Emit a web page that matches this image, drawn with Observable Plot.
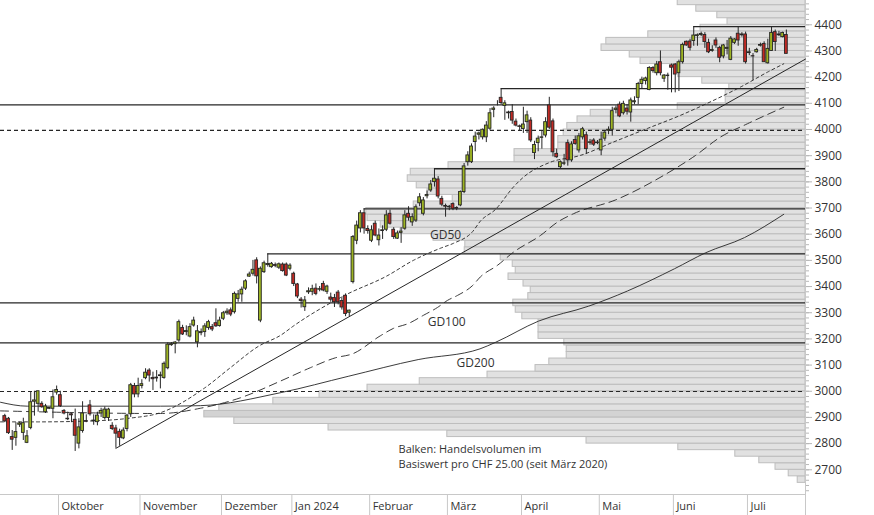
<!DOCTYPE html>
<html><head><meta charset="utf-8">
<script src="https://cdn.jsdelivr.net/npm/d3@7"></script>
<script src="https://cdn.jsdelivr.net/npm/@observablehq/plot@0.6"></script>
<style>
html,body{margin:0;padding:0;background:#fff;}
#chart{position:relative;width:874px;height:515px;overflow:hidden;}
#chart svg{position:absolute;left:0;top:0;}
</style></head><body><div id="chart"></div>
<script>
// ---- data ----
const monthNames = ["Oktober","November","Dezember","Jan 2024","Februar","März","April","Mai","Juni","Juli"];
const monthFirst = [15, 37, 59, 78, 99, 120, 140, 161, 181, 201];

const open = [2905,2895,2825,2822,2872,2841,2803,2860,2960,2952,
2952,2920,2933,2933,2995,2985,2925,2895,2912,2891,
2800,2848,2886,2946,2885,2882,2915,2898,2898,2868,
2858,2845,2820,2856,2912,3020,2988,3020,3050,3079,
3051,3049,3058,3051,3088,3176,3180,3194,3242,3226,
3209,3251,3187,3222,3226,3242,3245,3260,3249,3277,
3298,3309,3302,3353,3370,3392,3438,3449,3500,3270,
3455,3482,3474,3482,3472,3484,3484,3468,3449,3408,
3350,3321,3378,3380,3392,3388,3410,3380,3358,3356,
3377,3345,3365,3300,3417,3575,3622,3680,3620,3575,
3640,3577,3612,3617,3678,3617,3583,3605,3621,3678,
3645,3652,3718,3678,3745,3767,3799,3809,3735,3708,
3705,3715,3700,3710,3761,3875,3875,3952,3980,3970,
3970,4003,4075,4098,4121,4090,4065,4067,4030,4012,
4002,4028,4034,3910,3948,3968,3977,4092,4031,3907,
3856,3869,3948,3882,3960,3920,3970,3978,3949,3958,
3948,3920,3965,3995,3999,4075,4095,4062,4080,4065,
4104,4121,4174,4185,4151,4235,4215,4257,4194,4206,
4245,4248,4215,4257,4335,4336,4338,4357,4361,4361,
4331,4300,4340,4312,4279,4308,4266,4331,4366,4360,
4363,4292,4280,4295,4320,4327,4253,4300,4372,4360,
4353,4361];
const high = [2912,2900,2850,2880,2882,2897,2850,2996,3000,3000,
2960,2950,2937,3005,3020,3000,2930,2920,2915,2932,
2895,2960,2910,2965,2910,2920,2935,2940,2935,2880,
2870,2855,2860,2912,3030,3030,3050,3044,3086,3086,
3073,3079,3073,3112,3185,3186,3190,3272,3252,3250,
3258,3283,3251,3238,3258,3271,3255,3315,3283,3305,
3315,3318,3379,3385,3398,3426,3455,3500,3510,3475,
3497,3525,3492,3490,3490,3490,3490,3487,3455,3412,
3358,3362,3395,3405,3410,3400,3420,3405,3375,3370,
3385,3360,3372,3310,3595,3650,3690,3697,3632,3632,
3650,3620,3632,3690,3692,3625,3612,3625,3690,3705,
3678,3712,3755,3740,3765,3805,3850,3820,3745,3715,
3710,3720,3705,3765,3870,3915,3945,3990,3990,4002,
4030,4080,4087,4110,4156,4110,4070,4095,4040,4017,
4085,4070,4045,3955,3975,3995,4045,4123,4040,3925,
3880,3905,3960,3953,3975,3985,4008,3990,3962,3965,
3958,3990,3995,4010,4085,4090,4105,4108,4095,4120,
4125,4180,4200,4200,4240,4240,4260,4300,4210,4215,
4250,4252,4265,4330,4338,4345,4393,4365,4372,4370,
4345,4320,4350,4318,4325,4340,4355,4347,4393,4370,
4372,4310,4290,4310,4330,4335,4345,4393,4380,4375,
4372,4380];
const low = [2880,2835,2774,2790,2862,2812,2800,2853,2905,2920,
2935,2915,2930,2895,2985,2938,2910,2888,2880,2770,
2780,2840,2880,2905,2870,2868,2900,2890,2885,2850,
2782,2790,2815,2845,2900,2975,2975,3009,3044,3035,
3003,3035,3009,3046,3082,3172,3143,3187,3213,3212,
3204,3245,3166,3212,3206,3233,3228,3244,3245,3270,
3290,3285,3295,3340,3340,3385,3435,3440,3410,3262,
3450,3474,3470,3472,3465,3455,3438,3460,3400,3354,
3318,3305,3370,3365,3365,3380,3380,3370,3340,3320,
3330,3310,3285,3285,3410,3560,3605,3600,3600,3568,
3590,3555,3580,3610,3635,3580,3580,3565,3615,3650,
3630,3645,3705,3670,3735,3760,3780,3735,3705,3665,
3690,3690,3690,3705,3755,3860,3870,3915,3960,3960,
3950,3995,4045,4090,4095,4035,4040,4020,4010,3995,
3985,3985,3950,3885,3915,3925,3968,4000,3895,3890,
3850,3862,3860,3875,3940,3910,3960,3905,3940,3935,
3942,3900,3955,3980,3975,4060,4045,4055,4055,4028,
4095,4095,4155,4170,4148,4215,4205,4205,4180,4150,
4140,4140,4145,4250,4318,4300,4318,4318,4355,4310,
4290,4295,4310,4255,4270,4285,4263,4325,4318,4353,
4250,4282,4187,4292,4315,4257,4250,4298,4298,4355,
4350,4289];
const close = [2885,2840,2815,2844,2877,2878,2828,2958,2965,3000,
2939,2942,2936,2977,3005,2943,2915,2893,2908,2830,
2862,2915,2884,2912,2888,2907,2925,2930,2930,2856,
2838,2822,2850,2907,3023,2988,3020,3027,3071,3060,
3046,3052,3061,3105,3178,3180,3186,3264,3217,3230,
3245,3270,3229,3226,3248,3264,3236,3248,3270,3298,
3304,3293,3372,3370,3388,3420,3446,3464,3439,3468,
3489,3486,3487,3479,3485,3459,3442,3480,3410,3362,
3345,3347,3382,3390,3372,3390,3385,3400,3350,3340,
3340,3320,3295,3308,3589,3633,3680,3622,3612,3615,
3595,3595,3615,3672,3640,3589,3603,3610,3672,3663,
3665,3703,3741,3729,3750,3790,3812,3744,3713,3705,
3703,3697,3698,3761,3859,3901,3935,3973,3985,3999,
4015,4062,4080,4098,4101,4100,4062,4034,4015,4010,
4019,4054,3958,3941,3965,3970,4028,4007,3913,3894,
3875,3871,3882,3943,3945,3974,4001,3925,3951,3942,
3950,3961,3988,3999,4070,4080,4050,4098,4068,4111,
4108,4174,4190,4195,4235,4223,4248,4215,4206,4204,
4236,4210,4257,4323,4321,4312,4359,4360,4365,4334,
4295,4304,4321,4274,4321,4312,4347,4344,4340,4363,
4257,4295,4279,4304,4323,4257,4308,4369,4334,4363,
4369,4289];

// volume profile per CHF 25 bin, bins from 2650 upward
const volume = [1.3,2.8,5.0,7.7,11.7,21.2,36.5,59.7,79.5,95.2,100.2,97.7,88.7,81.0,
73.0,64.3,53.0,45.0,42.7,39.8,39.8,40.2,44.5,44.5,44.5,47.2,48.3,48.7,46.2,45.8,47.0,49.5,48.3,48.8,
50.8,56.8,56.7,62.0,67.5,70.8,73.0,73.2,65.3,58.8,63.0,64.8,66.3,65.8,59.5,48.5,48.5,41.2,41.2,40.3,
39.7,38.0,35.8,21.3,13.3,13.3,12.7,17.2,21.2,21.2,27.5,29.3,34.0,33.2,26.2,17.5,13.0,14.7,18.2,21.3];
const binLow = d3.range(2650, 4500, 25);

// horizontal levels
const levelValue = [4393, 4156, 4094, 3997, 3850, 3697, 3525, 3338, 3185, 2999];
const levelFrom  = [186, 134, null, null, 116, 97, 71, null, null, null];
const levelDash  = [false, false, false, true, false, false, false, false, false, true];

// trend line (through lows)
const trendIdx = [30, 216.17];
const trendVal = [2782, 4269];

// moving averages [index, value]
const gd50 = [[-1.16,2883],[8.8,2883],[25.8,2888],[33.6,2897],[42,2918],[53.9,3012],[60.9,3090],[68.5,3172],[74.6,3215],[78,3250],[92,3368],[103.1,3440],[110.3,3500],[117.9,3548],[121.1,3565],[126.3,3610],[128.4,3650],[132.5,3695],[137.3,3780],[139.8,3815],[147.1,3874],[155.4,3901],[164.3,3952],[173.5,4004],[182.4,4054],[191.3,4111],[198.6,4162],[205.9,4219],[210.3,4251]];
const gd100 = [[-1.16,2925],[42,2915],[52.8,2935],[63.6,2975],[74.6,3040],[82.5,3090],[89.3,3128],[93.9,3143],[101.4,3212],[104.9,3240],[109,3259],[113,3290],[116.8,3320],[119.5,3347],[122.2,3366],[126.3,3404],[128.4,3437],[133,3481],[137.3,3531],[144.6,3595],[149.2,3646],[153.5,3678],[164.9,3731],[177.8,3824],[186.5,3901],[193.2,3971],[200.5,4022],[210.3,4085]];
const gd200 = [[-1.16,2958],[6.1,2943],[42,2943],[52.8,2945],[74.6,2995],[92.7,3057],[111.6,3121],[128.3,3162],[132.5,3187],[144.1,3268],[157.6,3325],[168.1,3383],[180.8,3468],[189.2,3529],[199.7,3587],[210.3,3676]];

const yTicks = [2700,2800,2900,3000,3100,3200,3300,3400,3500,3600,3700,3800,3900,4000,4100,4200,4300,4400];
const labels = [
  {i: 119, v: 3595, text: "GD50"},
  {i: 119.3, v: 3263, text: "GD100"},
  {i: 127.1, v: 3108, text: "GD200"}
];
const noteLines = [
  {i: 106.3, v: 2776, text: "Balken: Handelsvolumen im"},
  {i: 106.3, v: 2721, text: "Basiswert pro CHF 25.00 (seit März 2020)"}
];

// ---- layout ----
const W = 874, H = 515;
const xDomain = [-1.16, 216.17];
const yDomain = [2605.6, 4492.8];
const M = {marginLeft: 0, marginRight: 69, marginTop: 0, marginBottom: 21};
const GREEN = "#9db423", RED = "#c12a24", INK = "#262626";
const font = {fontFamily: "'Open Sans', sans-serif", fontSize: "12px", background: "transparent", color: "#333"};

const candles = open.map((o, i) => ({i, o, h: high[i], l: low[i], c: close[i]}));
const bins = binLow.map((lo, k) => ({lo, hi: lo + 25, vol: volume[k]}));
const maxVol = d3.max(volume);
const levels = levelValue.map((v, k) => ({v, from: levelFrom[k] ?? xDomain[0], dash: levelDash[k]}));
const trend = trendIdx.map((i, k) => ({i, v: trendVal[k]}));
const bounds = monthFirst.map(d => d - 0.5);
const boundLabel = new Map(bounds.map((b, k) => [b, monthNames[k]]));

// background: volume profile
const back = Plot.plot({
  width: W, height: H, ...M,
  x: {domain: [0, 134.17], range: [805, 0], axis: null},
  y: {domain: yDomain, axis: null},
  color: {type: "identity"},
  style: font,
  marks: [
    Plot.rect(bins, {x1: 0, x2: "vol", y1: "lo", y2: "hi",
      fill: d => d.vol === maxVol ? "#d3d3d3" : "#e1e1e1",
      stroke: "#bdbdbd", strokeWidth: 1, clip: true})
  ]
});

// front: candles, lines, axes
const front = Plot.plot({
  width: W, height: H, ...M,
  x: {domain: xDomain},
  y: {domain: yDomain},
  color: {type: "identity"},
  style: font,
  marks: [
    Plot.ruleY([yDomain[0]], {stroke: "#c8c8c8"}),
    Plot.ruleX([xDomain[1]], {stroke: "#c8c8c8"}),
    Plot.axisX([...bounds, xDomain[1]], {anchor: "bottom", tickSize: 21, tickFormat: () => "", stroke: "#c8c8c8"}),
    Plot.axisX(bounds, {anchor: "bottom", tickSize: 0, tickPadding: 8, tickFormat: d => boundLabel.get(d),
      textAnchor: "start", dx: 3, fontSize: 11, fill: "#333"}),
    Plot.axisY(d3.range(2620, 4490, 20), {anchor: "right", tickSize: 3, tickFormat: () => "", stroke: "#b8b8b8"}),
    Plot.axisY(yTicks, {anchor: "right", tickSize: 6, tickPadding: 3, tickFormat: d => String(d),
      stroke: "#b8b8b8", fill: "#333", fontSize: 12}),
    Plot.ruleY(levels.filter(d => !d.dash), {y: "v", x1: "from", x2: () => xDomain[1], stroke: INK, strokeWidth: 1.3}),
    Plot.ruleY(levels.filter(d => d.dash), {y: "v", x1: "from", x2: () => xDomain[1], stroke: INK, strokeWidth: 1.2, strokeDasharray: "4,3"}),
    Plot.line(gd200, {x: d => d[0], y: d => d[1], stroke: INK, strokeWidth: 0.9, curve: "monotone-x"}),
    Plot.line(gd100, {x: d => d[0], y: d => d[1], stroke: INK, strokeWidth: 0.9, strokeDasharray: "8,5", curve: "monotone-x"}),
    Plot.line(gd50, {x: d => d[0], y: d => d[1], stroke: INK, strokeWidth: 0.9, strokeDasharray: "3,3", curve: "monotone-x"}),
    Plot.line(trend, {x: "i", y: "v", stroke: INK, strokeWidth: 1}),
    Plot.ruleX(candles, {x: "i", y1: "l", y2: "h", stroke: INK, strokeWidth: 1}),
    Plot.rect(candles, {x1: d => d.i - 0.38, x2: d => d.i + 0.38, y1: "o", y2: "c",
      fill: d => d.c >= d.o ? GREEN : RED, stroke: INK, strokeWidth: 0.9}),
    Plot.text(labels, {x: "i", y: "v", text: "text", fontSize: 12, fill: "#333"}),
    Plot.text(noteLines, {x: "i", y: "v", text: "text", fontSize: 11, fill: "#333", textAnchor: "start"})
  ]
});

const root = document.getElementById("chart");
root.appendChild(back);
root.appendChild(front);
</script></body></html>
